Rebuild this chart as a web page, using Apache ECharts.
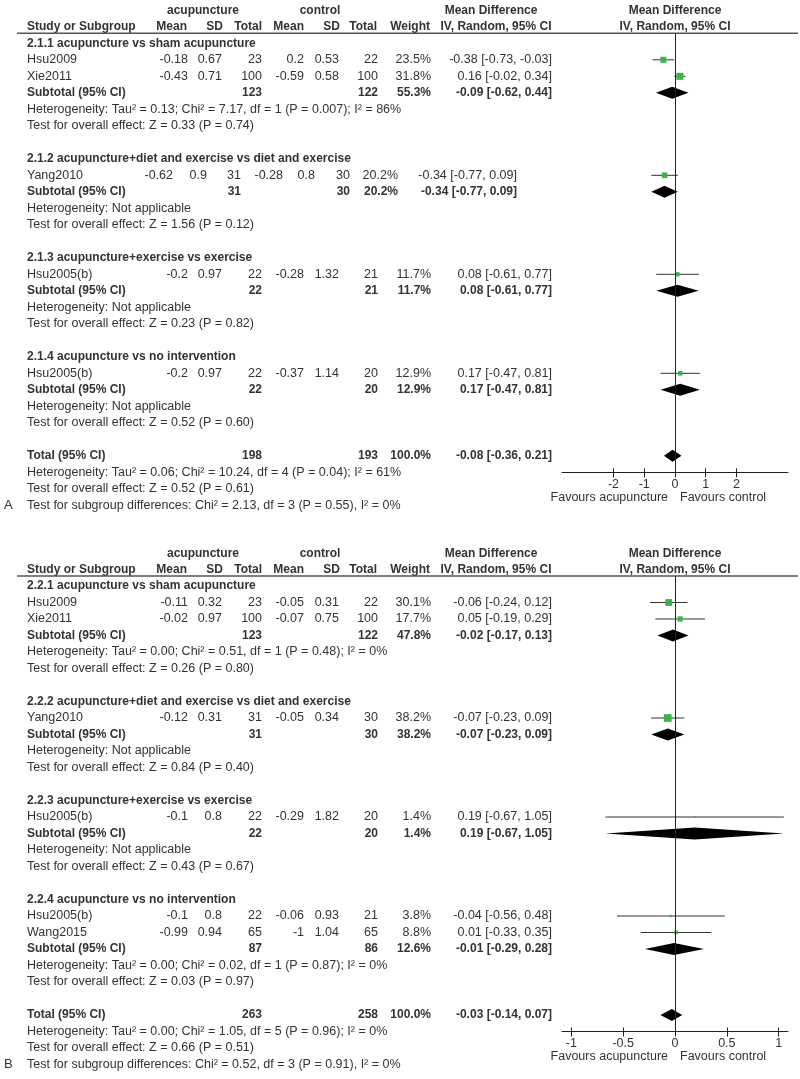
<!DOCTYPE html>
<html>
<head>
<meta charset="utf-8">
<script src="https://cdn.jsdelivr.net/npm/echarts@6/dist/echarts.min.js"></script>
<style>
  html, body { margin: 0; padding: 0; background: #fff; }
  #chart { width: 800px; height: 1079px; }
</style>
</head>
<body>
<div id="chart"></div>
<script>
// ---------- panel A ----------
var groupsA = [
  '2.1.1 acupuncture vs sham acupuncture',
  '2.1.2 acupuncture+diet and exercise vs diet and exercise',
  '2.1.3 acupuncture+exercise vs exercise',
  '2.1.4 acupuncture vs no intervention'
];
// group, study, acu mean, acu sd, acu n, ctl mean, ctl sd, ctl n, weight, MD, lower, upper
var studiesA = [
  [0, 'Hsu2009', -0.18, 0.67, 23, 0.2, 0.53, 22, 23.5, -0.38, -0.73, -0.03],
  [0, 'Xie2011', -0.43, 0.71, 100, -0.59, 0.58, 100, 31.8, 0.16, -0.02, 0.34],
  [1, 'Yang2010', -0.62, 0.9, 31, -0.28, 0.8, 30, 20.2, -0.34, -0.77, 0.09],
  [2, 'Hsu2005(b)', -0.2, 0.97, 22, -0.28, 1.32, 21, 11.7, 0.08, -0.61, 0.77],
  [3, 'Hsu2005(b)', -0.2, 0.97, 22, -0.37, 1.14, 20, 12.9, 0.17, -0.47, 0.81]
];
// acu n, ctl n, weight, MD, lower, upper
var subtotalsA = [
  [123, 122, 55.3, -0.09, -0.62, 0.44],
  [31, 30, 20.2, -0.34, -0.77, 0.09],
  [22, 21, 11.7, 0.08, -0.61, 0.77],
  [22, 20, 12.9, 0.17, -0.47, 0.81]
];
var hetA = [
  'Heterogeneity: Tau² = 0.13; Chi² = 7.17, df = 1 (P = 0.007); I² = 86%',
  'Heterogeneity: Not applicable',
  'Heterogeneity: Not applicable',
  'Heterogeneity: Not applicable'
];
var effectA = [
  'Test for overall effect: Z = 0.33 (P = 0.74)',
  'Test for overall effect: Z = 1.56 (P = 0.12)',
  'Test for overall effect: Z = 0.23 (P = 0.82)',
  'Test for overall effect: Z = 0.52 (P = 0.60)'
];
var totalA = [198, 193, 100.0, -0.08, -0.36, 0.21];
var totalNotesA = [
  'Heterogeneity: Tau² = 0.06; Chi² = 10.24, df = 4 (P = 0.04); I² = 61%',
  'Test for overall effect: Z = 0.52 (P = 0.61)',
  'Test for subgroup differences: Chi² = 2.13, df = 3 (P = 0.55), I² = 0%'
];
var ticksA = [-2, -1, 0, 1, 2];

// ---------- panel B ----------
var groupsB = [
  '2.2.1 acupuncture vs sham acupuncture',
  '2.2.2 acupuncture+diet and exercise vs diet and exercise',
  '2.2.3 acupuncture+exercise vs exercise',
  '2.2.4 acupuncture vs no intervention'
];
var studiesB = [
  [0, 'Hsu2009', -0.11, 0.32, 23, -0.05, 0.31, 22, 30.1, -0.06, -0.24, 0.12],
  [0, 'Xie2011', -0.02, 0.97, 100, -0.07, 0.75, 100, 17.7, 0.05, -0.19, 0.29],
  [1, 'Yang2010', -0.12, 0.31, 31, -0.05, 0.34, 30, 38.2, -0.07, -0.23, 0.09],
  [2, 'Hsu2005(b)', -0.1, 0.8, 22, -0.29, 1.82, 20, 1.4, 0.19, -0.67, 1.05],
  [3, 'Hsu2005(b)', -0.1, 0.8, 22, -0.06, 0.93, 21, 3.8, -0.04, -0.56, 0.48],
  [3, 'Wang2015', -0.99, 0.94, 65, -1, 1.04, 65, 8.8, 0.01, -0.33, 0.35]
];
var subtotalsB = [
  [123, 122, 47.8, -0.02, -0.17, 0.13],
  [31, 30, 38.2, -0.07, -0.23, 0.09],
  [22, 20, 1.4, 0.19, -0.67, 1.05],
  [87, 86, 12.6, -0.01, -0.29, 0.28]
];
var hetB = [
  'Heterogeneity: Tau² = 0.00; Chi² = 0.51, df = 1 (P = 0.48); I² = 0%',
  'Heterogeneity: Not applicable',
  'Heterogeneity: Not applicable',
  'Heterogeneity: Tau² = 0.00; Chi² = 0.02, df = 1 (P = 0.87); I² = 0%'
];
var effectB = [
  'Test for overall effect: Z = 0.26 (P = 0.80)',
  'Test for overall effect: Z = 0.84 (P = 0.40)',
  'Test for overall effect: Z = 0.43 (P = 0.67)',
  'Test for overall effect: Z = 0.03 (P = 0.97)'
];
var totalB = [263, 258, 100.0, -0.03, -0.14, 0.07];
var totalNotesB = [
  'Heterogeneity: Tau² = 0.00; Chi² = 1.05, df = 5 (P = 0.96); I² = 0%',
  'Test for overall effect: Z = 0.66 (P = 0.51)',
  'Test for subgroup differences: Chi² = 0.52, df = 3 (P = 0.91), I² = 0%'
];
var ticksB = [-1, -0.5, 0, 0.5, 1];

// ---------- layout ----------
var FONT = '"Liberation Sans", Arial, Helvetica, sans-serif';
var TXT = '#333';
var GREEN = '#3cb44b';
var ROW = 16.5;
var colX = [188, 222, 262, 304, 339, 378, 431, 552];
var colShifted = [173, 207, 241, 283, 315, 350, 398, 517]; // 2.1.2 block is set tighter in the source

var panels = [
  { top: 0, label: 'A', groups: groupsA, studies: studiesA, subs: subtotalsA, het: hetA, eff: effectA,
    total: totalA, notes: totalNotesA, ticks: ticksA, xMax: 3.675, shifted: 1 },
  { top: 542.7, label: 'B', groups: groupsB, studies: studiesB, subs: subtotalsB, het: hetB, eff: effectB,
    total: totalB, notes: totalNotesB, ticks: ticksB, xMax: 1.09, shifted: -1 }
];

function txt(x, y, s, align, bold, size) {
  align = align || 'left';
  return {
    type: 'text', x: x, y: y, silent: true,
    style: {
      text: String(s), fill: TXT,
      font: (bold ? 'bold 12px ' : (size || 12.5) + 'px ') + FONT,
      textAlign: align, textVerticalAlign: 'middle', align: align, verticalAlign: 'middle'
    }
  };
}
function ciText(md, lo, hi) {
  return md.toFixed(2) + ' [' + lo.toFixed(2) + ', ' + hi.toFixed(2) + ']';
}

var graphics = [], series = [], grids = [], xAxes = [], yAxes = [];

panels.forEach(function(p, idx) {
  var y0 = p.top + 43.3;
  function rowY(r) { return y0 + r * ROW; }
  var lineY = p.top + 33.3;

  // column headers
  var h1 = p.top + 10.8, h2 = p.top + 26.5;
  graphics.push(txt(203, h1, 'acupuncture', 'center', true));
  graphics.push(txt(320, h1, 'control', 'center', true));
  graphics.push(txt(491, h1, 'Mean Difference', 'center', true));
  graphics.push(txt(675, h1, 'Mean Difference', 'center', true));
  graphics.push(txt(27, h2, 'Study or Subgroup', 'left', true));
  graphics.push(txt(187, h2, 'Mean', 'right', true));
  graphics.push(txt(223, h2, 'SD', 'right', true));
  graphics.push(txt(262, h2, 'Total', 'right', true));
  graphics.push(txt(304, h2, 'Mean', 'right', true));
  graphics.push(txt(340, h2, 'SD', 'right', true));
  graphics.push(txt(377, h2, 'Total', 'right', true));
  graphics.push(txt(430, h2, 'Weight', 'right', true));
  graphics.push(txt(496, h2, 'IV, Random, 95% CI', 'center', true));
  graphics.push(txt(675, h2, 'IV, Random, 95% CI', 'center', true));
  graphics.push({
    type: 'line', silent: true,
    shape: { x1: 17, y1: lineY, x2: 798, y2: lineY },
    style: { stroke: '#555', lineWidth: 1.5 }
  });

  var r = 0, studyPts = [], diamondPts = [];
  function summary(row, label, t, cols) {
    var yy = rowY(row);
    graphics.push(txt(27, yy, label, 'left', true));
    graphics.push(txt(cols[2], yy, t[0], 'right', true));
    graphics.push(txt(cols[5], yy, t[1], 'right', true));
    graphics.push(txt(cols[6], yy, t[2].toFixed(1) + '%', 'right', true));
    graphics.push(txt(cols[7], yy, ciText(t[3], t[4], t[5]), 'right', true));
    diamondPts.push([row, t[3], t[4], t[5]]);
  }

  p.groups.forEach(function(g, gi) {
    var cols = gi === p.shifted ? colShifted : colX;
    graphics.push(txt(27, rowY(r), g, 'left', true));
    r++;
    p.studies.filter(function(s) { return s[0] === gi; }).forEach(function(s) {
      var yy = rowY(r);
      graphics.push(txt(27, yy, s[1]));
      for (var k = 0; k < 6; k++) graphics.push(txt(cols[k], yy, s[k + 2], 'right'));
      graphics.push(txt(cols[6], yy, s[8].toFixed(1) + '%', 'right'));
      graphics.push(txt(cols[7], yy, ciText(s[9], s[10], s[11]), 'right'));
      studyPts.push([r, s[9], s[10], s[11], s[8]]);
      r++;
    });
    summary(r, 'Subtotal (95% CI)', p.subs[gi], cols);
    r++;
    graphics.push(txt(27, rowY(r), p.het[gi])); r++;
    graphics.push(txt(27, rowY(r), p.eff[gi])); r++;
    r++;
  });
  var totalRow = r;
  summary(r, 'Total (95% CI)', p.total, colX);
  r++;
  p.notes.forEach(function(n) {
    graphics.push(txt(27, rowY(r), n));
    r++;
  });
  graphics.push(txt(4, rowY(r - 1), p.label, 'left', false, 13));

  var axisY = rowY(totalRow + 1);
  graphics.push(txt(668, axisY + 25.5, 'Favours acupuncture', 'right'));
  graphics.push(txt(680, axisY + 25.5, 'Favours control', 'left'));

  grids.push({ left: 562, width: 226, top: lineY, height: axisY - lineY });
  yAxes.push({
    gridIndex: idx, type: 'value', inverse: true, show: false,
    min: (lineY - y0) / ROW, max: totalRow + 1
  });
  xAxes.push({
    gridIndex: idx, type: 'value', position: 'bottom', min: -p.xMax, max: p.xMax,
    axisLine: { show: true, onZero: false, lineStyle: { color: '#222', width: 1 } },
    axisTick: { show: true, length: 5, customValues: p.ticks, lineStyle: { color: '#222' } },
    axisLabel: { customValues: p.ticks, margin: 6, color: TXT, fontSize: 12.5, fontFamily: FONT },
    splitLine: { show: false }
  });
  xAxes.push({
    gridIndex: idx, type: 'value', position: 'bottom', offset: 0, min: -p.xMax, max: p.xMax,
    axisLine: { show: false, onZero: false },
    axisTick: { show: true, inside: true, length: 4, customValues: p.ticks, lineStyle: { color: '#222' } },
    axisLabel: { show: false },
    splitLine: { show: false }
  });

  series.push({
    type: 'custom', xAxisIndex: 2 * idx, yAxisIndex: idx, clip: false, silent: true,
    data: studyPts, encode: { x: [1, 2, 3], y: 0 },
    renderItem: function(params, api) {
      var row = api.value(0);
      var a = api.coord([api.value(2), row]);
      var b = api.coord([api.value(3), row]);
      var c = api.coord([api.value(1), row]);
      var s = Math.max(2, 1.25 * Math.sqrt(api.value(4)));
      return {
        type: 'group',
        children: [
          { type: 'line', shape: { x1: a[0], y1: a[1], x2: b[0], y2: b[1] },
            style: { stroke: '#333', lineWidth: 1 } },
          { type: 'rect', shape: { x: c[0] - s / 2, y: c[1] - s / 2, width: s, height: s },
            style: { fill: GREEN } }
        ]
      };
    },
    markLine: {
      silent: true, symbol: 'none', label: { show: false },
      lineStyle: { color: '#222', width: 1, type: 'solid' },
      data: [{ xAxis: 0 }]
    }
  });
  series.push({
    type: 'custom', xAxisIndex: 2 * idx, yAxisIndex: idx, clip: false, silent: true,
    data: diamondPts, encode: { x: [1, 2, 3], y: 0 },
    renderItem: function(params, api) {
      var row = api.value(0);
      var m = api.coord([api.value(1), row]);
      var lo = api.coord([api.value(2), row]);
      var hi = api.coord([api.value(3), row]);
      var h = 6;
      return {
        type: 'polygon',
        shape: { points: [[lo[0], lo[1]], [m[0], m[1] - h], [hi[0], hi[1]], [m[0], m[1] + h]] },
        style: { fill: '#000' }
      };
    }
  });
});

var chart = echarts.init(document.getElementById('chart'));
chart.setOption({
  backgroundColor: '#fff',
  animation: false,
  grid: grids,
  xAxis: xAxes,
  yAxis: yAxes,
  series: series,
  graphic: graphics
});
</script>
</body>
</html>
